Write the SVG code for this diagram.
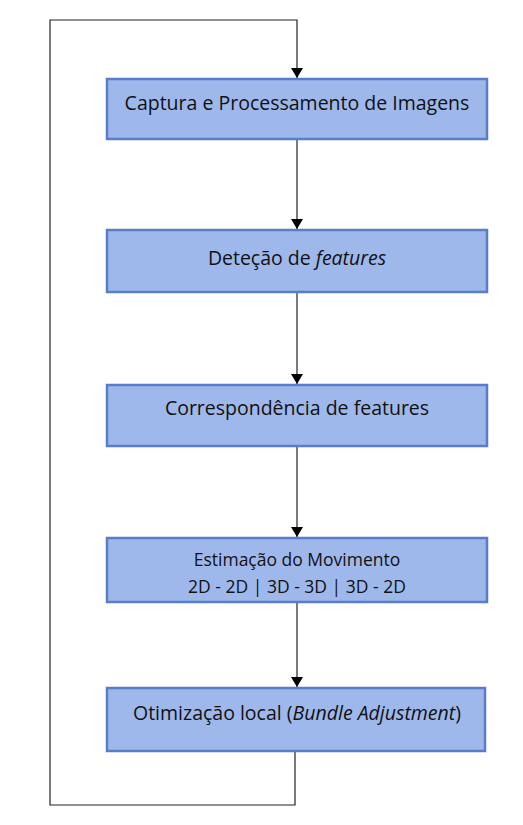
<svg xmlns="http://www.w3.org/2000/svg" width="523" height="825" viewBox="0 0 523 825">
<style>
.box{fill:#9fb8ec;stroke:#5a7dc8;stroke-width:2.5}
.t{font-family:"Open Sans","Liberation Sans",sans-serif;font-size:19.5px;fill:#111;text-anchor:middle}
.s{font-size:17.5px}
.c{fill:none;stroke:#222;stroke-width:1.2}
</style>
<defs>
<marker id="ah" viewBox="0 0 10 12" refX="10" refY="6" markerWidth="11" markerHeight="12" markerUnits="userSpaceOnUse" orient="auto">
<path d="M0,0 L10,6 L0,12 Z" fill="#000"/>
</marker>
</defs>
<rect width="523" height="825" fill="#fff"/>
<g id="connectors">
<path class="c" d="M295,751 V805 H50 V20 H297 V78" marker-end="url(#ah)"/>
<path class="c" d="M297,139 V229" marker-end="url(#ah)"/>
<path class="c" d="M297,292 V384" marker-end="url(#ah)"/>
<path class="c" d="M297,446 V537" marker-end="url(#ah)"/>
<path class="c" d="M297,602 V687" marker-end="url(#ah)"/>
</g>
<g id="n1"><rect class="box" x="107" y="79" width="380" height="60"/><text class="t" x="297" y="110">Captura e Processamento de Imagens</text></g>
<g id="n2"><rect class="box" x="107" y="230" width="380" height="62"/><text class="t" x="297" y="265">Deteção de <tspan font-style="italic">features</tspan></text></g>
<g id="n3"><rect class="box" x="107" y="385" width="380" height="61"/><text class="t" x="297" y="415">Correspondência de features</text></g>
<g id="n4"><rect class="box" x="107" y="538" width="380" height="64"/><text class="t s" x="297" y="566">Estimação do Movimento</text><text class="t s" x="297" y="593">2D - 2D | 3D - 3D | 3D - 2D</text></g>
<g id="n5"><rect class="box" x="107" y="688" width="378" height="63"/><text class="t" x="297" y="720">Otimização local (<tspan font-style="italic">Bundle Adjustment</tspan>)</text></g>
</svg>
